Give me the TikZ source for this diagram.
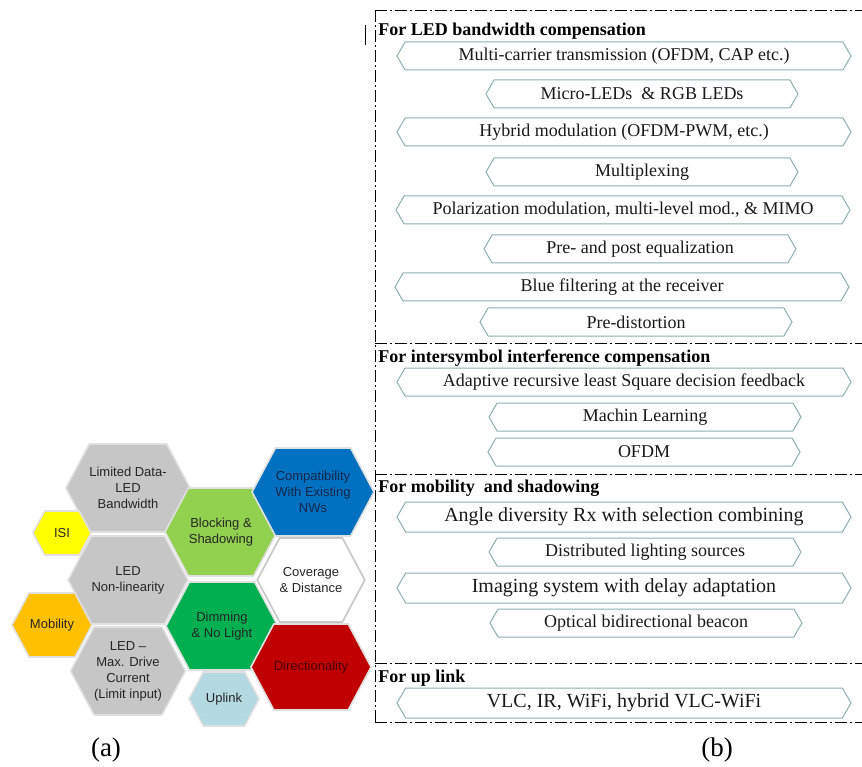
\documentclass[tikz,border=0pt]{standalone}
\usepackage{fontspec}
\setmainfont{Liberation Serif}
\newfontfamily\hexfont{Liberation Sans}
\usepackage{xcolor}
\usepackage{tikz}
\usetikzlibrary{shapes.symbols}
\usetikzlibrary{positioning}
\definecolor{boxline}{HTML}{8DAEB2}
\definecolor{hexgrey}{HTML}{C6C6C6}
\definecolor{lightgreen}{HTML}{92D050}
\definecolor{darkgreen}{HTML}{00B050}
\definecolor{nwblue}{HTML}{0070C0}
\definecolor{navytext}{HTML}{14284A}
\definecolor{dirred}{HTML}{C00000}
\definecolor{redtext}{HTML}{4A0000}
\definecolor{uplinkblue}{HTML}{B4D9E0}
\definecolor{isiyellow}{HTML}{FFFF00}
\definecolor{mobyellow}{HTML}{FFC000}

\begin{document}
\begin{tikzpicture}[x=1pt,y=-1pt,semithick]
 				 \tikzstyle{hex}=[signal, signal to=west and east, signal pointer angle=124, draw=black!12, line width=1.6pt, inner sep=0pt, align=center, font=\hexfont\fontsize{13}{16}\selectfont, text=black!85, minimum width=112pt, minimum height=88pt]
 				 \tikzstyle{tech}=[signal, signal to=west and east, signal pointer angle=120, draw=boxline, line width=1pt, fill=white, minimum height=28pt, inner sep=0pt, text=black!90, font=\fontsize{18}{20}\selectfont]
 				 \tikzstyle{wide}=[tech, minimum width=454pt]
 				 \tikzstyle{narrow}=[tech, minimum width=312pt]
 				 \tikzstyle{big}=[minimum height=30pt, font=\fontsize{20}{22}\selectfont]
 				 \tikzstyle{head}=[anchor=west, inner sep=0pt, font=\bfseries\fontsize{18}{20}\selectfont]
 				 \tikzstyle{sep}=[line width=0.8pt, dash pattern=on 12pt off 3pt on 2pt off 3pt]
 				 \tikzstyle{caption}=[font=\fontsize{27}{30}\selectfont]
 				 \useasboundingbox (0,0) rectangle (862,767);
 					 \node[hex, fill=hexgrey]                 (bandwidth) at (128,488) {Limited Data-\\LED\\Bandwidth};
 					 \node[hex, fill=hexgrey]                 (nonlinear) at (128,580) {LED\\Non-linearity};
 					 \node[hex, fill=hexgrey]                 (drive)     at (128,671) {LED –\\Max. Drive\\Current\\(Limit input)};
 					 \node[hex, fill=lightgreen]              (blocking)  at (221,532) {Blocking \&\\Shadowing};
 					 \node[hex, fill=darkgreen]               (dimming)   at (222,626) {Dimming\\\& No Light};
 					 \node[hex, fill=nwblue, text=navytext, minimum width=104pt] (compat) at (313,492) {Compatibility\\With Existing\\NWs};
 					 \node[hex, fill=white, draw=black!22, minimum width=104pt, minimum height=84pt] (coverage) at (311,580) {Coverage\\\& Distance};
 					 \node[hex, fill=dirred, text=redtext, minimum width=102pt, minimum height=86pt] (direction) at (311,667) {Directionality};
 					 \node[hex, fill=uplinkblue, minimum width=70pt, minimum height=54pt] (uplink) at (224,699) {Uplink};
 					 \node[hex, fill=isiyellow, minimum width=58pt, minimum height=44pt] (isi) at (62,533) {ISI};
 					 \node[hex, fill=mobyellow, minimum width=80pt, minimum height=64pt] (mobility) at (52,625) {Mobility};
 					 \node[caption] (capa) at (106,750) {(a)};

 					 \draw[line width=0.8pt] (365,25) -- (365,45);
 					 \draw[sep] (375,10) -- (862,10);
 					 \draw[sep] (375,10) -- (375,722);
 					 \draw[sep] (375,343) -- (862,343);
 					 \draw[sep] (375,474) -- (862,474);
 					 \draw[sep] (375,663) -- (862,663);
 					 \draw[sep] (375,722) -- (862,722);

 					 \node[head] (ledhead) at (378,31) {For LED bandwidth compensation};
 					 \node[wide]   (multicarrier) at (624,56)  {Multi-carrier transmission (OFDM, CAP etc.)};
 					 \node[narrow] (microled)     at (642,94)  {Micro-LEDs \ \& RGB LEDs};
 					 \node[wide]   (hybrid)       at (624,132) {Hybrid modulation (OFDM-PWM, etc.)};
 					 \node[narrow] (multiplex)    at (642,172) {Multiplexing};
 					 \node[wide]   (polar)        at (623,210) {Polarization modulation, multi-level mod., \& MIMO};
 					 \node[narrow] (equalize)     at (640,249) {Pre- and post equalization};
 					 \node[wide]   (bluefilter)   at (622,287) {Blue filtering at the receiver};
 					 \node[narrow] (predistort)   at (636,322) {Pre-distortion};
 					 \node[head] (isihead) at (378,358) {For intersymbol interference compensation};
 					 \node[wide]   (adaptive)     at (624,382) {Adaptive recursive least Square decision feedback};
 					 \node[narrow] (learning)     at (645,417) {Machin Learning};
 					 \node[narrow] (ofdm)         at (644,452) {OFDM};
 					 \node[head] (mobhead) at (378,488) {For mobility \ and shadowing};
 					 \node[wide, big]   (angle)   at (624,517) {Angle diversity Rx with selection combining};
 					 \node[narrow]      (distrib) at (645,552) {Distributed lighting sources};
 					 \node[wide, big]   (imaging) at (624,588) {Imaging system with delay adaptation};
 					 \node[narrow]      (beacon)  at (646,623) {Optical bidirectional beacon};
 					 \node[head] (uphead) at (378,678) {For up link};
 					 \node[wide, big]   (vlc)     at (624,703) {VLC, IR, WiFi, hybrid VLC-WiFi};
 					 \node[caption] (capb) at (717,750) {(b)};
				\end{tikzpicture}
\end{document}
